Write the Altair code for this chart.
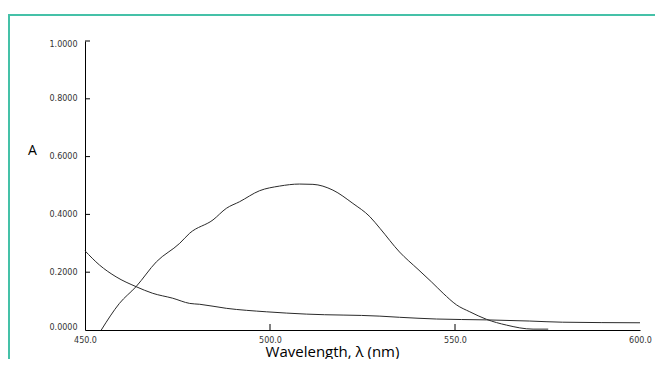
import altair as alt
import pandas as pd

# Curve 1: absorption band (peak ~510 nm)
peak_nm = [454.4, 459.3, 463.8, 469.3, 475.6, 478.3, 484.6, 488.2, 491.8, 497.2,
           502.6, 508.0, 511.6, 517.0, 522.4, 527.0, 529.7, 535.0, 540.0, 543.6,
           546.8, 550.4, 554.0, 558.5, 563.9, 571.1, 575.2]
peak_A = [0.000, 0.092, 0.150, 0.236, 0.300, 0.335, 0.381, 0.421, 0.444, 0.482,
          0.498, 0.505, 0.504, 0.484, 0.438, 0.392, 0.352, 0.270, 0.210, 0.167,
          0.127, 0.087, 0.063, 0.037, 0.017, 0.003, 0.003]

# Curve 2: decaying baseline
base_nm = [450.0, 453.9, 458.4, 463.8, 468.3, 473.7, 478.3, 481.0, 488.2, 499.0,
           509.8, 529.7, 535.0, 545.0, 558.5, 570.2, 579.0, 600.0]
base_A = [0.274, 0.225, 0.184, 0.150, 0.127, 0.110, 0.092, 0.089, 0.075, 0.063,
          0.055, 0.048, 0.044, 0.038, 0.035, 0.031, 0.027, 0.025]

x_ticks = [450, 500, 550, 600]
y_ticks = [0.0, 0.2, 0.4, 0.6, 0.8, 1.0]

W, H = 555, 289

df = pd.concat([
    pd.DataFrame({"nm": peak_nm, "A": peak_A, "s": "peak"}),
    pd.DataFrame({"nm": base_nm, "A": base_A, "s": "base"}),
])

xs = alt.Scale(domain=[450, 600], nice=False, zero=False)
ys = alt.Scale(domain=[0, 1], nice=False)

lines = alt.Chart(df).mark_line(color="#2a2a2a", strokeWidth=1, interpolate="monotone").encode(
    x=alt.X("nm:Q", scale=xs,
            axis=alt.Axis(values=x_ticks, format=".1f", title="Wavelength, λ (nm)",
                          labelFlush=False, ticks=False, tickSize=0, grid=False,
                          domainColor="#000", labelPadding=6, labelFont="DejaVu Sans",
                          labelFontSize=8, labelColor="#333",
                          titleFont="Open Sans", titleFontSize=15, titleFontWeight="normal",
                          titleColor="#000", titleX=247, titleY=26, titleAlign="center",
                          titleBaseline="alphabetic")),
    y=alt.Y("A:Q", scale=ys,
            axis=alt.Axis(values=y_ticks, format=".4f", title="A", titleAngle=0,
                          labelFlush=True, labelFlushOffset=1, ticks=False, tickSize=0,
                          grid=False, domainColor="#000", labelPadding=8,
                          labelFont="DejaVu Sans", labelFontSize=8, labelColor="#333",
                          titleFont="Open Sans", titleFontSize=14, titleFontWeight="normal",
                          titleColor="#000", titleX=-53, titleY=109, titleAlign="center",
                          titleBaseline="middle")),
    detail="s:N",
)

ytick_df = pd.DataFrame({"v": [t for t in y_ticks if t > 0]})
yt = alt.Chart(ytick_df).mark_rule(color="#000", strokeWidth=1).encode(
    y=alt.Y("v:Q", scale=ys), x=alt.value(0), x2=alt.value(5))

xtick_df = pd.DataFrame({"v": [500, 550]})
xt = alt.Chart(xtick_df).mark_rule(color="#000", strokeWidth=1).encode(
    x=alt.X("v:Q", scale=xs), y=alt.value(H), y2=alt.value(H - 6))

frame_top = alt.Chart(pd.DataFrame({"k": [0]})).mark_rule(color="#45c1a8", strokeWidth=2).encode(
    x=alt.value(-77), x2=alt.value(600), y=alt.value(-26))
frame_left = alt.Chart(pd.DataFrame({"k": [0]})).mark_rule(color="#45c1a8", strokeWidth=2).encode(
    x=alt.value(-76), y=alt.value(-26), y2=alt.value(330))

chart = alt.layer(lines, yt, xt, frame_top, frame_left).properties(
    width=W, height=H,
    background="white",
    autosize=alt.AutoSizeParams(type="none"),
    padding={"left": 77, "top": 33, "right": 15, "bottom": 29},
).configure_view(stroke=None, strokeWidth=0)

chart.save("out.html", embed_options={"renderer": "svg", "actions": False})
